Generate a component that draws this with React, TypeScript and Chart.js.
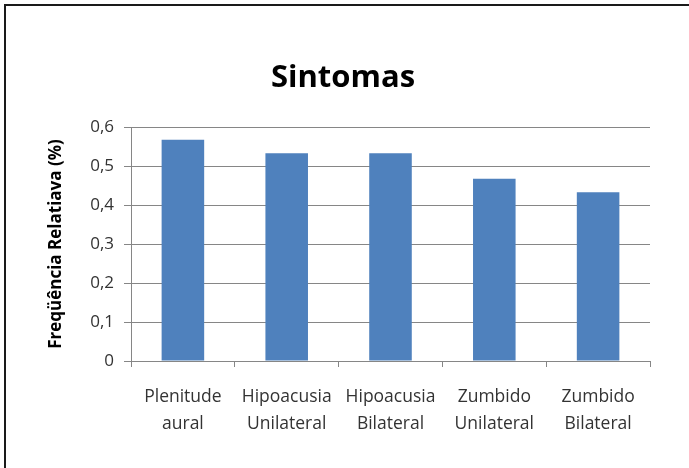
import React, { useEffect, useRef } from "react";
import { Chart, registerables } from "chart.js";

Chart.register(...registerables);

const categories: string[][] = [
  ["Plenitude", "aural"],
  ["Hipoacusia", "Unilateral"],
  ["Hipoacusia", "Bilateral"],
  ["Zumbido", "Unilateral"],
  ["Zumbido", "Bilateral"],
];
const values: number[] = [0.567, 0.533, 0.533, 0.467, 0.433];
const yTicks: number[] = [0, 0.1, 0.2, 0.3, 0.4, 0.5, 0.6];
const chartTitle = "Sintomas";
const yTitle = "Freqüência Relatiava (%)";

const FONT = "'Open Sans', 'DejaVu Sans', sans-serif";

export default function App() {
  const ref = useRef<HTMLCanvasElement | null>(null);

  useEffect(() => {
    document.body.style.margin = "0";
    const canvas = ref.current;
    if (!canvas) return;

    const titlePlugin = {
      id: "customTitle",
      afterDraw(chart: any) {
        const ctx = chart.ctx;
        ctx.save();
        ctx.font = `bold 31px ${FONT}`;
        ctx.fillStyle = "#000";
        ctx.textAlign = "center";
        ctx.textBaseline = "middle";
        ctx.fillText(chartTitle, 343, 78);
        ctx.restore();
      },
    };

    const chart = new Chart(canvas, {
      type: "bar",
      data: {
        labels: categories,
        datasets: [
          {
            data: values,
            backgroundColor: "#4F81BD",
            borderWidth: 0,
            barPercentage: 0.41,
            categoryPercentage: 1,
          },
        ],
      },
      options: {
        responsive: false,
        animation: false,
        layout: { padding: { left: 0, top: 127, right: 39, bottom: 0 } },
        plugins: {
          legend: { display: false },
          title: { display: false },
          tooltip: { enabled: false },
        },
        scales: {
          x: {
            grid: {
              display: true,
              drawOnChartArea: false,
              drawTicks: true,
              tickLength: 6,
              color: "#868686",
              offset: true,
            },
            border: { color: "#868686", width: 1 },
            ticks: {
              color: "#333",
              font: { family: FONT, size: 17.5, lineHeight: 1.55 },
              padding: 16,
              maxRotation: 0,
              autoSkip: false,
            },
            afterFit(scale: any) {
              scale.height = 107;
            },
          },
          y: {
            min: 0,
            max: 0.6,
            afterBuildTicks(scale: any) {
              scale.ticks = yTicks.map((v) => ({ value: v }));
            },
            grid: {
              color: "#868686",
              tickLength: 7,
            },
            border: { color: "#868686", width: 1 },
            ticks: {
              color: "#333",
              font: { family: FONT, size: 17 },
              padding: 10,
              callback: (v: any) => String(Math.round(Number(v) * 10) / 10).replace(".", ","),
            },
            title: {
              display: true,
              text: yTitle,
              color: "#000",
              font: { family: FONT, size: 17, weight: "bold" },
              padding: { top: 46, bottom: 0 },
            },
            afterFit(scale: any) {
              scale.width = 131;
            },
          },
        },
      },
      plugins: [titlePlugin],
    });

    return () => chart.destroy();
  }, []);

  return (
    <div style={{ position: "relative", width: 689, height: 468, overflow: "hidden", background: "#fff" }}>
      <canvas
        ref={ref}
        width={689}
        height={468}
        style={{ position: "absolute", left: 0, top: 0, width: 689, height: 468 }}
      />
      <div
        style={{
          position: "absolute",
          left: 4,
          top: 4,
          width: 700,
          height: 480,
          borderTop: "2px solid #1a1a1a",
          borderLeft: "2px solid #1a1a1a",
          pointerEvents: "none",
        }}
      />
    </div>
  );
}
